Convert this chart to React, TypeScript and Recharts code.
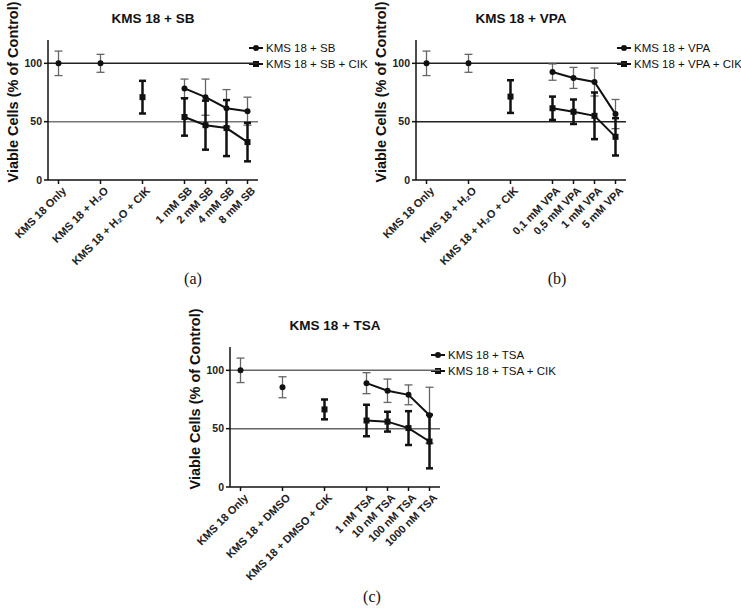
import { ComposedChart, Scatter, ErrorBar, XAxis, YAxis, ReferenceLine } from "recharts";

const FONT = '"Liberation Sans", Arial, sans-serif';

// x positions of the 7 groups (controls spaced wider than doses)
const TICK_POS = [0, 2, 4, 6, 7, 8, 9];
const DOSE_POS = [6, 7, 8, 9];

// ---- (a) SB
const SB_TICKS = ["KMS 18 Only", "KMS 18 + H₂O", "KMS 18 + H₂O + CIK", "1 mM SB", "2 mM SB", "4 mM SB", "8 mM SB"];
const SB_CTRL = [100, 100];
const SB_CTRL_ERR = [10.5, 7.7];
const SB_CIK_CTRL = 71;
const SB_CIK_CTRL_ERR = 14;
const SB_DOSE = [78.5, 71, 61.5, 59];
const SB_DOSE_ERR = [8, 15.5, 16, 12];
const SB_DOSE_CIK = [54, 47, 44.5, 32.5];
const SB_DOSE_CIK_ERR = [16, 21, 24, 16.5];

// ---- (b) VPA
const VPA_TICKS = ["KMS 18 Only", "KMS 18 + H₂O", "KMS 18 + H₂O + CIK", "0,1 mM VPA", "0,5 mM VPA", "1 mM VPA", "5 mM VPA"];
const VPA_CTRL = [100, 100];
const VPA_CTRL_ERR = [10.5, 7.7];
const VPA_CIK_CTRL = 71.5;
const VPA_CIK_CTRL_ERR = 14;
const VPA_DOSE = [92.5, 87.5, 84, 56.5];
const VPA_DOSE_ERR = [7, 9, 12, 12.5];
const VPA_DOSE_CIK = [61.5, 58.5, 55, 37];
const VPA_DOSE_CIK_ERR = [10, 10.5, 20, 16];

// ---- (c) TSA
const TSA_TICKS = ["KMS 18 Only", "KMS 18 + DMSO", "KMS 18 + DMSO + CIK", "1 nM TSA", "10 nM TSA", "100 nM TSA", "1000 nM TSA"];
const TSA_CTRL = [100, 85.5];
const TSA_CTRL_ERR = [10.5, 9];
const TSA_CIK_CTRL = 66.5;
const TSA_CIK_CTRL_ERR = 8.5;
const TSA_DOSE = [89, 82.5, 79, 61.5];
const TSA_DOSE_ERR = [9, 10, 8.5, 24];
const TSA_DOSE_CIK = [57, 56, 50.5, 39];
const TSA_DOSE_CIK_ERR = [13.5, 8.5, 14.5, 23];

const Dot = (p: any) => <circle cx={p.cx} cy={p.cy} r={3} fill="#111" />;
const Sq = (p: any) => <rect x={p.cx - 3} y={p.cy - 3} width={6} height={6} fill="#111" />;

function makeTick(labels: string[]) {
  return (p: any) => {
    const i = TICK_POS.indexOf(p.payload.value);
    return (
      <g transform={`translate(${p.x + 3},${p.y})`}>
        <text
          textAnchor="end"
          transform="rotate(-45)"
          dy="0.7em"
          fontSize={11}
          fontWeight="bold"
          fontFamily={FONT}
          fill="#222"
        >
          {labels[i]}
        </text>
      </g>
    );
  };
}

function LegendItem({ y, square, text }: { y: number; square?: boolean; text: string }) {
  return (
    <div style={{ position: "absolute", left: 0, top: y - 8, height: 16, display: "flex", alignItems: "center" }}>
      <svg width={16} height={16}>
        <line x1={1} y1={8} x2={15} y2={8} stroke="#111" strokeWidth={2} />
        {square ? <rect x={5} y={5} width={6} height={6} fill="#111" /> : <circle cx={8} cy={8} r={3} fill="#111" />}
      </svg>
      <span style={{ marginLeft: 2, fontSize: 11.5, fontFamily: FONT, color: "#111", whiteSpace: "nowrap" }}>{text}</span>
    </div>
  );
}

interface PanelProps {
  left: number;
  top: number;
  title: string;
  ticks: string[];
  ctrl: number[];
  ctrlErr: number[];
  cikCtrl: number;
  cikCtrlErr: number;
  dose: number[];
  doseErr: number[];
  doseCik: number[];
  doseCikErr: number[];
  legend: string[];
  line100: string;
  line50: string;
}

function Panel(props: PanelProps) {
  const ctrlData = props.ctrl.map((y, i) => ({ x: TICK_POS[i], y, err: props.ctrlErr[i] }));
  const cikData = [{ x: TICK_POS[2], y: props.cikCtrl, err: props.cikCtrlErr }];
  const doseData = props.dose.map((y, i) => ({ x: DOSE_POS[i], y, err: props.doseErr[i] }));
  const doseCikData = props.doseCik.map((y, i) => ({ x: DOSE_POS[i], y, err: props.doseCikErr[i] }));
  const axisStyle = { stroke: "#111", strokeWidth: 1.5 };

  return (
    <div style={{ position: "absolute", left: props.left, top: props.top, width: 370, height: 290 }}>
      <div
        style={{
          position: "absolute",
          left: 53,
          width: 200,
          top: 11,
          textAlign: "center",
          fontFamily: FONT,
          fontWeight: "bold",
          fontSize: 13.5,
          color: "#111",
        }}
      >
        {props.title}
      </div>
      <div
        style={{
          position: "absolute",
          left: 13,
          top: 92,
          transform: "translate(-50%, -50%) rotate(-90deg)",
          whiteSpace: "nowrap",
          fontFamily: FONT,
          fontWeight: "bold",
          fontSize: 14.5,
          color: "#111",
        }}
      >
        Viable Cells (% of Control)
      </div>
      <div style={{ position: "absolute", left: 248, top: 48 }}>
        <LegendItem y={0} text={props.legend[0]} />
        <LegendItem y={16} square text={props.legend[1]} />
      </div>
      <ComposedChart width={370} height={290} margin={{ top: 40, right: 112, bottom: 20, left: 20 }}>
        <XAxis
          dataKey="x"
          type="number"
          domain={[-0.5, 9.5]}
          ticks={TICK_POS}
          interval={0}
          allowDataOverflow
          height={90}
          tickSize={4}
          axisLine={axisStyle}
          tickLine={axisStyle}
          tick={makeTick(props.ticks)}
        />
        <YAxis
          dataKey="y"
          type="number"
          domain={[0, 120]}
          ticks={[0, 50, 100]}
          width={28}
          tickSize={4}
          axisLine={axisStyle}
          tickLine={axisStyle}
          tick={{ fontSize: 10.5, fontWeight: "bold", fill: "#222", fontFamily: FONT }}
        />
        <ReferenceLine y={100} stroke={props.line100} strokeWidth={1.5} />
        <ReferenceLine y={50} stroke={props.line50} strokeWidth={1.5} />
        <Scatter data={ctrlData} dataKey="y" shape={Dot} isAnimationActive={false}>
          <ErrorBar dataKey="err" direction="y" width={4} stroke="#666" strokeWidth={1.3} />
        </Scatter>
        <Scatter
          data={doseData}
          dataKey="y"
          shape={Dot}
          line={{ stroke: "#111", strokeWidth: 2 }}
          lineType="joint"
          isAnimationActive={false}
        >
          <ErrorBar dataKey="err" direction="y" width={4} stroke="#666" strokeWidth={1.3} />
        </Scatter>
        <Scatter data={cikData} dataKey="y" shape={Sq} isAnimationActive={false}>
          <ErrorBar dataKey="err" direction="y" width={3.5} stroke="#111" strokeWidth={2.5} />
        </Scatter>
        <Scatter
          data={doseCikData}
          dataKey="y"
          shape={Sq}
          line={{ stroke: "#111", strokeWidth: 2 }}
          lineType="joint"
          isAnimationActive={false}
        >
          <ErrorBar dataKey="err" direction="y" width={3.5} stroke="#111" strokeWidth={2.5} />
        </Scatter>
      </ComposedChart>
    </div>
  );
}

const captionStyle = {
  position: "absolute" as const,
  fontFamily: '"Liberation Serif", "DejaVu Serif", serif',
  fontSize: 16,
  color: "#111",
  transform: "translate(-50%, -50%)",
};

export default function App() {
  return (
    <div style={{ position: "absolute", left: 0, top: 0, width: 741, height: 609, background: "#fff", overflow: "hidden" }}>
      <Panel
        left={0}
        top={0}
        title="KMS 18 + SB"
        ticks={SB_TICKS}
        ctrl={SB_CTRL}
        ctrlErr={SB_CTRL_ERR}
        cikCtrl={SB_CIK_CTRL}
        cikCtrlErr={SB_CIK_CTRL_ERR}
        dose={SB_DOSE}
        doseErr={SB_DOSE_ERR}
        doseCik={SB_DOSE_CIK}
        doseCikErr={SB_DOSE_CIK_ERR}
        legend={["KMS 18 + SB", "KMS 18 + SB + CIK"]}
        line100="#222"
        line50="#777"
      />
      <Panel
        left={368}
        top={0}
        title="KMS 18 + VPA"
        ticks={VPA_TICKS}
        ctrl={VPA_CTRL}
        ctrlErr={VPA_CTRL_ERR}
        cikCtrl={VPA_CIK_CTRL}
        cikCtrlErr={VPA_CIK_CTRL_ERR}
        dose={VPA_DOSE}
        doseErr={VPA_DOSE_ERR}
        doseCik={VPA_DOSE_CIK}
        doseCikErr={VPA_DOSE_CIK_ERR}
        legend={["KMS 18 + VPA", "KMS 18 + VPA + CIK"]}
        line100="#222"
        line50="#222"
      />
      <Panel
        left={182}
        top={307}
        title="KMS 18 + TSA"
        ticks={TSA_TICKS}
        ctrl={TSA_CTRL}
        ctrlErr={TSA_CTRL_ERR}
        cikCtrl={TSA_CIK_CTRL}
        cikCtrlErr={TSA_CIK_CTRL_ERR}
        dose={TSA_DOSE}
        doseErr={TSA_DOSE_ERR}
        doseCik={TSA_DOSE_CIK}
        doseCikErr={TSA_DOSE_CIK_ERR}
        legend={["KMS 18 + TSA", "KMS 18 + TSA + CIK"]}
        line100="#666"
        line50="#666"
      />
      <div style={{ ...captionStyle, left: 193, top: 279 }}>(a)</div>
      <div style={{ ...captionStyle, left: 557, top: 279 }}>(b)</div>
      <div style={{ ...captionStyle, left: 372, top: 597 }}>(c)</div>
    </div>
  );
}
